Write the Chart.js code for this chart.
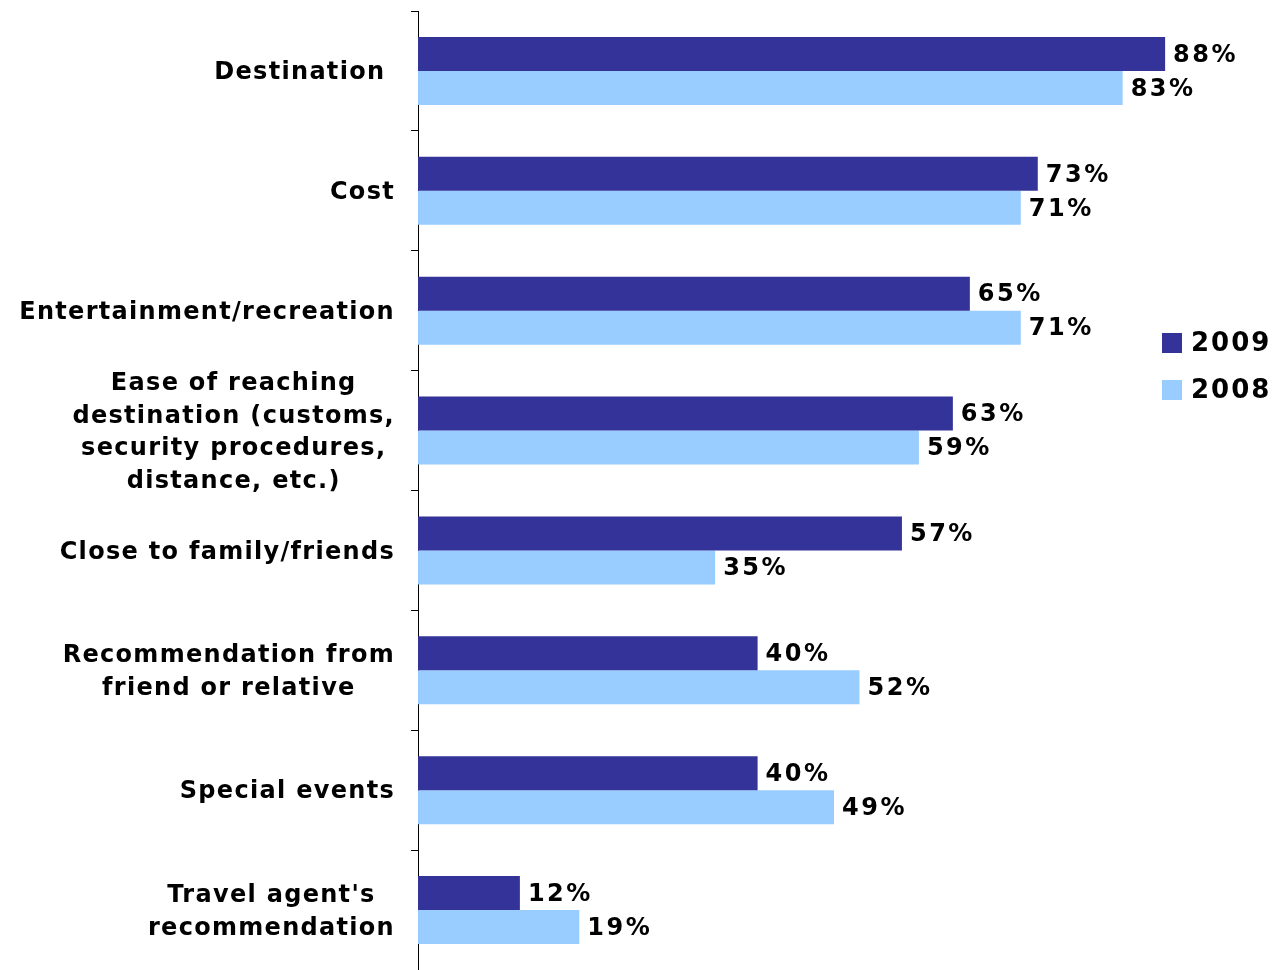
<!DOCTYPE html>
<html>
<head>
<meta charset="utf-8">
<script src="https://cdn.jsdelivr.net/npm/chart.js@4/dist/chart.umd.min.js"></script>
<style>
  html, body { margin: 0; padding: 0; background: #fff; }
  #wadah { width: 1274px; height: 970px; }
</style>
</head>
<body>
<div id="wadah"><canvas id="chart-faktor"></canvas></div>
<script>
const kategori = [
  "Destination ",
  "Cost",
  "Entertainment/recreation",
  ["Ease of reaching", "destination (customs,", "security procedures,", "distance, etc.)"],
  "Close to family/friends",
  ["Recommendation from", "friend or relative"],
  "Special events",
  ["Travel agent's", "recommendation"],
];
const nilai_2009 = [88, 73, 65, 63, 57, 40, 40, 12];
const nilai_2008 = [83, 71, 71, 59, 35, 52, 49, 19];
const label_seri = ["2009", "2008"];
const warna_seri = ["#333399", "#99CCFF"];

const FONT = "bold 24px 'DejaVu Sans'";
const FONT_LEGEND = "bold 26px 'DejaVu Sans'";

// label kategori: tiap baris di tengah blok, blok rata kanan
const label_kategori = {
  id: "label_kategori",
  afterDraw(chart) {
    const ctx = chart.ctx;
    const skala = chart.scales.y;
    const kanan = chart.chartArea.left - 23;
    ctx.save();
    ctx.font = FONT;
    ctx.letterSpacing = "1.3px";
    ctx.fillStyle = "#000";
    ctx.textAlign = "center";
    ctx.textBaseline = "middle";
    kategori.forEach((lbl, i) => {
      const baris = Array.isArray(lbl) ? lbl : [lbl];
      const lebar = Math.max(...baris.map((t) => ctx.measureText(t).width));
      const cx = kanan - lebar / 2;
      const cy = skala.getPixelForTick(i) + 2;
      baris.forEach((t, j) => {
        ctx.fillText(t, cx, cy + (j - (baris.length - 1) / 2) * 32.5);
      });
    });
    ctx.restore();
  },
};

// angka persen di ujung batang
const label_nilai = {
  id: "label_nilai",
  afterDatasetsDraw(chart) {
    const ctx = chart.ctx;
    ctx.save();
    ctx.font = FONT;
    ctx.letterSpacing = "2.5px";
    ctx.fillStyle = "#000";
    ctx.textAlign = "left";
    ctx.textBaseline = "middle";
    chart.data.datasets.forEach((ds, d) => {
      chart.getDatasetMeta(d).data.forEach((bar, i) => {
        ctx.fillText(ds.data[i] + "%", bar.x + 8, bar.y + 1.5);
      });
    });
    ctx.restore();
  },
};

// legenda kotak di kanan
const legenda = {
  id: "legenda",
  afterDraw(chart) {
    const ctx = chart.ctx;
    const x = chart.width - 112;
    ctx.save();
    ctx.font = FONT_LEGEND;
    ctx.letterSpacing = "2px";
    ctx.textAlign = "left";
    ctx.textBaseline = "middle";
    label_seri.forEach((teks, i) => {
      const y = 343 + i * 47;
      ctx.fillStyle = warna_seri[i];
      ctx.fillRect(x, y - 10, 20, 20);
      ctx.fillStyle = "#000";
      ctx.fillText(teks, x + 29, y + 1.5);
    });
    ctx.restore();
  },
};

const ctx = document.getElementById("chart-faktor").getContext("2d");
const chart = new Chart(ctx, {
  type: "bar",
  data: {
    labels: kategori,
    datasets: [
      {
        label: label_seri[0],
        data: nilai_2009,
        backgroundColor: warna_seri[0],
      },
      {
        label: label_seri[1],
        data: nilai_2008,
        backgroundColor: warna_seri[1],
      },
    ],
  },
  options: {
    indexAxis: "y",
    responsive: true,
    maintainAspectRatio: false,
    animation: false,
    datasets: {
      bar: {
        categoryPercentage: 0.567,
        barPercentage: 1.0,
      },
    },
    layout: {
      padding: { top: 11, right: 7, bottom: 0, left: 0 },
    },
    plugins: {
      legend: { display: false },
      tooltip: { enabled: false },
    },
    scales: {
      x: {
        display: false,
        min: 0,
        max: 100,
      },
      y: {
        grid: {
          offset: true,
          drawOnChartArea: false,
          tickLength: 7,
          color: "#000",
        },
        border: { color: "#000", width: 1 },
        ticks: { display: false },
        afterFit(scale) {
          scale.width = 418;
        },
      },
    },
  },
  plugins: [label_kategori, label_nilai, legenda],
});
</script>
</body>
</html>
